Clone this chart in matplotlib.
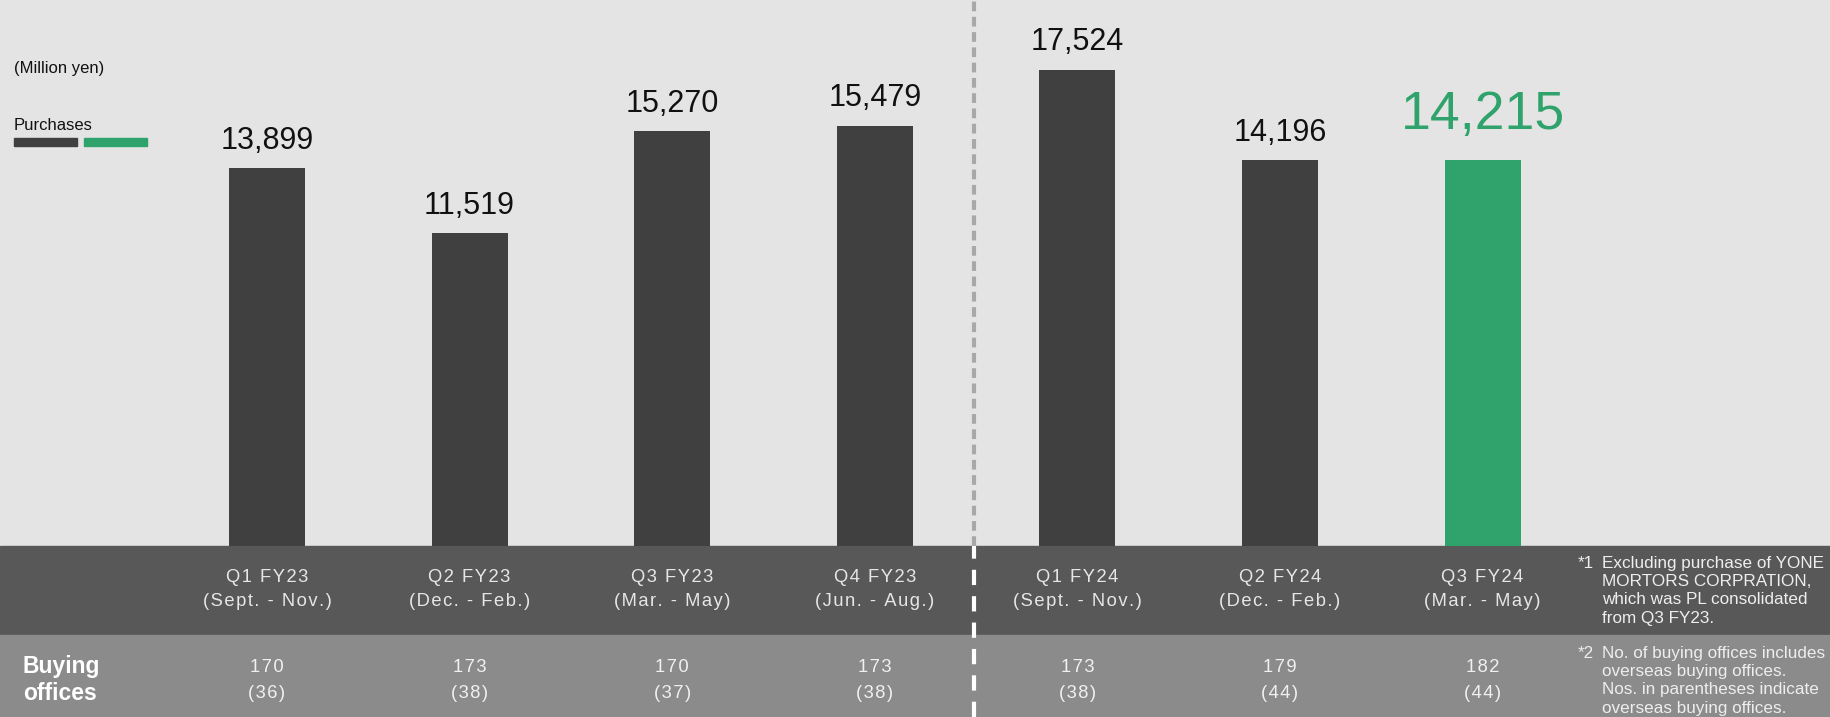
#Purchases by quarter - bar chart with buying offices table underneath

import numpy as np
import matplotlib.pyplot as plt
from matplotlib.transforms import blended_transform_factory
from matplotlib.patches import Rectangle

plt.rcParams['font.family'] = ['Liberation Sans', 'DejaVu Sans']
plt.rcParams['lines.scale_dashes'] = False

# data
quarters = ["Q1 FY23", "Q2 FY23", "Q3 FY23", "Q4 FY23", "Q1 FY24", "Q2 FY24", "Q3 FY24"]
periods = ["(Sept. - Nov.)", "(Dec. - Feb.)", "(Mar. - May)", "(Jun. - Aug.)",
           "(Sept. - Nov.)", "(Dec. - Feb.)", "(Mar. - May)"]
purchases = [13899, 11519, 15270, 15479, 17524, 14196, 14215]
offices = [170, 173, 170, 173, 173, 179, 182]
overseas_offices = [36, 38, 37, 38, 38, 44, 44]

dark = '#404040'
green = '#2fa36b'
bg = '#e4e4e4'


def spaced(s):
    # the table text in the original is letter-spaced, fake it with hair spaces
    return "\u200a".join(s)


W, H = 1830, 717
fig = plt.figure(figsize=(W / 100, H / 100), dpi=100)
fig.patch.set_facecolor(bg)

base_px = 546  # baseline of the bars
ax = fig.add_axes([0, (H - base_px) / H, 1, base_px / H])
ax.set_facecolor(bg)

x = np.arange(len(quarters))
colors = [dark] * (len(quarters) - 1) + [green]
ax.bar(x, purchases, width=0.375, color=colors, zorder=2)

ax.set_xlim(-1.318, 7.715)
ax.set_ylim(0, 20100)
ax.axis('off')

# value labels
for i, v in enumerate(purchases):
    if i == len(purchases) - 1:
        ax.annotate(f"{v:,}", (x[i], v), xytext=(0, 14), textcoords='offset points',
                    ha='center', va='bottom', fontsize=38.5, color=green)
    else:
        ax.annotate(f"{v:,}", (x[i], v), xytext=(0, 9), textcoords='offset points',
                    ha='center', va='bottom', fontsize=22, color='#111111')

# bands at the bottom (behind everything)
band1_top = (H - base_px) / H
band2_top = (H - 635) / H
fig.patches.append(Rectangle((0, band2_top), 1, band1_top - band2_top,
                             transform=fig.transFigure, color='#585858', zorder=-2))
fig.patches.append(Rectangle((0, 0), 1, band2_top,
                             transform=fig.transFigure, color='#8b8b8b', zorder=-2))

trans = blended_transform_factory(ax.transData, fig.transFigure)
for i in range(len(quarters)):
    ax.text(x[i], 1 - 577 / H, spaced(quarters[i]), transform=trans, ha='center',
            va='center', fontsize=13.2, color='#e6e6e6', clip_on=False)
    ax.text(x[i], 1 - 601 / H, spaced(periods[i]), transform=trans, ha='center',
            va='center', fontsize=13.2, color='#e6e6e6', clip_on=False)
    ax.text(x[i], 1 - 668 / H, spaced(str(offices[i])), transform=trans, ha='center',
            va='center', fontsize=13.2, color='#f0f0f0', clip_on=False)
    ax.text(x[i], 1 - 693 / H, spaced(f"({overseas_offices[i]})"), transform=trans,
            ha='center', va='center', fontsize=13.2, color='#f0f0f0', clip_on=False)

fig.text(23 / W, 1 - 667 / H, "Buying", fontsize=16.5, fontweight='bold',
         color='white', va='center', ha='left')
fig.text(23 / W, 1 - 694 / H, "offices", fontsize=16.5, fontweight='bold',
         color='white', va='center', ha='left')

# dashed divider between FY23 and FY24
div_x = (974 - 267) / 202.6
ax.plot([div_x, div_x], [0, 20100], color='#a8a8a8', lw=3, dashes=(7, 4), zorder=1)
fig.add_artist(plt.Line2D([974 / W, 974 / W], [0, band1_top], color='white', lw=3,
                          dashes=(11, 8)))

# footnotes
fn_kw = dict(fontsize=12.3, color='#eeeeee', va='top', ha='left', linespacing=1.27)
fig.text(1578 / W, 1 - 556 / H, "*1", **fn_kw)
fig.text(1602 / W, 1 - 556 / H,
         "Excluding purchase of YONE\nMORTORS CORPRATION,\nwhich was PL consolidated\nfrom Q3 FY23.",
         **fn_kw)
fig.text(1578 / W, 1 - 646 / H, "*2", **fn_kw)
fig.text(1602 / W, 1 - 646 / H,
         "No. of buying offices includes\noverseas buying offices.\nNos. in parentheses indicate\noverseas buying offices.",
         **fn_kw)

# legend
fig.text(14 / W, 1 - 69 / H, "(Million yen)", fontsize=12, color='#111111', va='center')
fig.text(14 / W, 1 - 126 / H, "Purchases", fontsize=12, color='#111111', va='center')
fig.patches.append(Rectangle((14 / W, 1 - 146 / H), 63 / W, 8 / H,
                             transform=fig.transFigure, color=dark))
fig.patches.append(Rectangle((84 / W, 1 - 146 / H), 63 / W, 8 / H,
                             transform=fig.transFigure, color=green))

plt.savefig("out.png", dpi=100, facecolor=bg)
